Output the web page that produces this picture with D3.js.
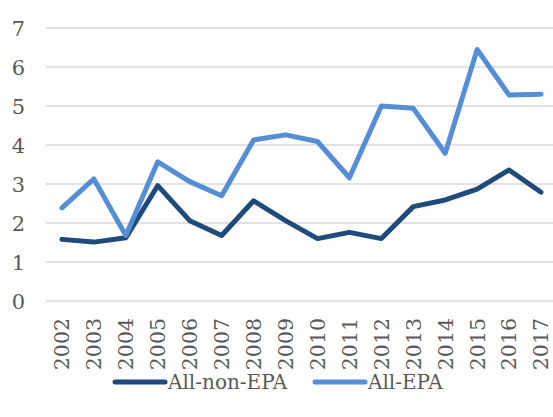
<!DOCTYPE html>
<html>
<head>
<meta charset="utf-8">
<script src="https://cdn.jsdelivr.net/npm/d3@7"></script>
<style>
  body { margin: 0; background: #fff; }
  svg { display: block; }
  text { font-family: "DejaVu Serif", "Liberation Serif", serif; fill: #595959; }
</style>
</head>
<body>
<div id="chart"></div>
<script>
const years = ["2002", "2003", "2004", "2005", "2006", "2007", "2008", "2009",
  "2010", "2011", "2012", "2013", "2014", "2015", "2016", "2017"];
const nonEpa = [1.58, 1.51, 1.62, 2.96, 2.06, 1.68, 2.57, 2.06,
  1.60, 1.76, 1.60, 2.42, 2.59, 2.87, 3.36, 2.79];
const allEpa = [2.39, 3.13, 1.68, 3.57, 3.06, 2.70, 4.13, 4.26,
  4.09, 3.16, 5.00, 4.94, 3.79, 6.45, 5.28, 5.30];
const yTicks = [0, 1, 2, 3, 4, 5, 6, 7];

const series = [
  { name: "All-non-EPA", values: nonEpa, color: "#1F4A7C" },
  { name: "All-EPA", values: allEpa, color: "#558ED5" }
];

const width = 553, height = 417;
const plot = { left: 46, right: 557, top: 28, bottom: 301 };

const svg = d3.select("#chart").append("svg")
  .attr("width", width)
  .attr("height", height);

const x = d3.scaleBand()
  .domain(years)
  .range([plot.left, plot.right]);

const y = d3.scaleLinear()
  .domain([0, 7])
  .range([plot.bottom, plot.top]);

// gridlines
svg.append("g")
  .selectAll("line")
  .data(yTicks)
  .enter().append("line")
  .attr("x1", plot.left)
  .attr("x2", width)
  .attr("y1", d => y(d))
  .attr("y2", d => y(d))
  .attr("stroke", "#d9d9d9")
  .attr("stroke-width", 1.5);

// y labels
svg.append("g")
  .selectAll("text")
  .data(yTicks)
  .enter().append("text")
  .attr("x", 25)
  .attr("y", d => y(d))
  .attr("dy", "0.36em")
  .attr("text-anchor", "end")
  .attr("font-size", 21)
  .text(d => d);

// x labels, rotated
svg.append("g")
  .selectAll("text")
  .data(years)
  .enter().append("text")
  .attr("transform", d => `translate(${x(d) + x.bandwidth() / 2},318) rotate(-90)`)
  .attr("dy", "0.36em")
  .attr("text-anchor", "end")
  .attr("font-size", 20.5)
  .text(d => d);

const line = d3.line()
  .x((d, i) => x(years[i]) + x.bandwidth() / 2)
  .y(d => y(d));

svg.append("g")
  .selectAll("path")
  .data(series)
  .enter().append("path")
  .attr("d", d => line(d.values))
  .attr("fill", "none")
  .attr("stroke", d => d.color)
  .attr("stroke-width", 5)
  .attr("stroke-linejoin", "round")
  .attr("stroke-linecap", "round");

// legend
const legendX = [115, 315];
const legend = svg.append("g")
  .selectAll("g")
  .data(series)
  .enter().append("g")
  .attr("transform", (d, i) => `translate(${legendX[i]},382)`);

legend.append("line")
  .attr("x1", 0).attr("x2", 50)
  .attr("stroke", d => d.color)
  .attr("stroke-width", 5)
  .attr("stroke-linecap", "round");

legend.append("text")
  .attr("x", 53)
  .attr("dy", "0.36em")
  .attr("font-size", 20)
  .text(d => d.name);
</script>
</body>
</html>
